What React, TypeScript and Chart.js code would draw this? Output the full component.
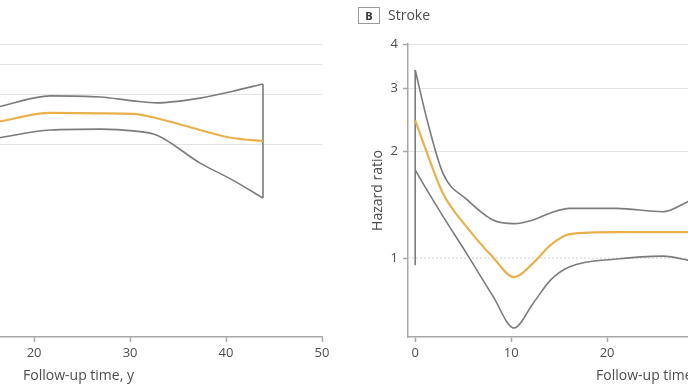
import React, { useEffect, useRef } from "react";
import { Chart, registerables } from "chart.js";
Chart.register(...registerables);

const xTicks = [0, 10, 20, 30, 40, 50];
const yTicks = [1, 2, 3, 4];
const xTitle = "Follow-up time, y";
const yTitle = "Hazard ratio";
const panelLetter = "B";
const panelTitle = "Stroke";

// Panel A (only its right part is visible)
const aTime = [16.2, 21.7, 26.9, 30.3, 32.8, 37.3, 40.7, 43.85];
const aUpper = [1.67, 1.95, 1.92, 1.82, 1.77, 1.89, 2.08, 2.3];
const aHR = [1.357, 1.54, 1.53, 1.52, 1.43, 1.214, 1.087, 1.042];
const aLower = [1.087, 1.214, 1.23, 1.2, 1.13, 0.768, 0.607, 0.473];

// Panel B Stroke (only its left part is visible)
const bTime = [0, 1.25, 2.9, 5.4, 8.1, 10.3, 12.3, 14.1, 16.1, 21, 25.8, 28.4, 29.2];
const bUpper = [3.38, 2.44, 1.73, 1.46, 1.28, 1.25, 1.28, 1.34, 1.38, 1.38, 1.35, 1.44, 1.475];
const bHR = [2.44, 1.97, 1.52, 1.22, 1.006, 0.884, 0.968, 1.088, 1.168, 1.183, 1.183, 1.183, 1.183];
const bLower = [1.77, 1.55, 1.31, 1.026, 0.782, 0.636, 0.747, 0.867, 0.945, 0.994, 1.013, 0.987, 0.974];
const bEdgeTop = 3.38;
const bEdgeBottom = 0.955;

const FONT = "'Open Sans', 'DejaVu Sans', sans-serif";
const GREY = "#7c7c7c";
const ORANGE = "#eab04c";
const AXIS = "#a8a8a8";
const GRID = "#e3e3e3";
const TEXT = "#4d4d4d";

type PanelOpts = {
  time: number[];
  upper: number[];
  hr: number[];
  lower: number[];
  edge: { x: number; y: number }[];
  yMin: number;
  yWidth: number;
  showYTitle: boolean;
  dashedRef: boolean;
};

function pts(t: number[], v: number[]) {
  return t.map((x, i) => ({ x, y: v[i] }));
}

function makeConfig(o: PanelOpts): any {
  const curve = (data: any[], color: string, w: number) => ({
    data,
    borderColor: color,
    borderWidth: w,
    pointRadius: 0,
    fill: false,
    cubicInterpolationMode: "monotone",
  });
  const datasets: any[] = [
    curve(pts(o.time, o.hr), ORANGE, 2.2),
    curve(pts(o.time, o.upper), GREY, 1.6),
    curve(pts(o.time, o.lower), GREY, 1.6),
    { data: o.edge, borderColor: GREY, borderWidth: 1.6, pointRadius: 0, tension: 0, fill: false },
  ];
  if (o.dashedRef) {
    datasets.push({
      data: [
        { x: -0.75, y: 1 },
        { x: 50, y: 1 },
      ],
      borderColor: "#d2d2d2",
      borderWidth: 1,
      borderDash: [2, 2],
      pointRadius: 0,
      tension: 0,
    });
  }
  return {
    type: "line",
    data: { datasets },
    options: {
      animation: false,
      responsive: false,
      events: [],
      layout: { padding: { left: 0, right: 20, top: 44, bottom: 0 } },
      plugins: { legend: { display: false }, tooltip: { enabled: false } },
      scales: {
        x: {
          type: "linear",
          min: -0.75,
          max: 50,
          afterBuildTicks: (s: any) => {
            s.ticks = xTicks.map((v) => ({ value: v }));
          },
          afterFit: (s: any) => {
            s.height = 50;
          },
          ticks: { font: { family: FONT, size: 13 }, color: TEXT, padding: 3, maxRotation: 0 },
          grid: {
            display: true,
            drawOnChartArea: false,
            drawTicks: true,
            tickLength: 5,
            tickColor: AXIS,
            tickWidth: 1.5,
          },
          border: { display: true, color: AXIS, width: 1.5 },
          title: {
            display: true,
            text: xTitle,
            color: TEXT,
            font: { family: FONT, size: 14 },
            padding: { top: 0, bottom: 3 },
          },
        },
        y: {
          type: "logarithmic",
          min: o.yMin,
          max: 4,
          afterBuildTicks: (s: any) => {
            s.ticks = yTicks.map((v) => ({ value: v }));
          },
          afterFit: (s: any) => {
            s.width = o.yWidth;
          },
          ticks: {
            font: { family: FONT, size: 13 },
            color: TEXT,
            padding: 5,
            callback: (v: any) => String(v),
          },
          grid: {
            color: (ctx: any) =>
              o.dashedRef && ctx.tick && ctx.tick.value === 1 ? "rgba(0,0,0,0)" : GRID,
            lineWidth: 1,
            drawTicks: true,
            tickLength: 5,
            tickColor: AXIS,
            tickWidth: 1.5,
          },
          border: { display: true, color: AXIS, width: 1.5 },
          title: {
            display: o.showYTitle,
            text: yTitle,
            color: TEXT,
            font: { family: FONT, size: 14 },
            padding: { top: 20, bottom: 0 },
          },
        },
      },
    },
  };
}

function Panel(props: { opts: PanelOpts; left: number; width: number }) {
  const ref = useRef<HTMLCanvasElement | null>(null);
  useEffect(() => {
    if (!ref.current) return;
    const chart = new Chart(ref.current, makeConfig(props.opts));
    return () => chart.destroy();
  }, []);
  return (
    <canvas
      ref={ref}
      width={props.width}
      height={387}
      style={{ position: "absolute", left: props.left, top: 0, width: props.width, height: 387, display: "block" }}
    />
  );
}

export default function App() {
  const n = aTime.length - 1;
  const optsA: PanelOpts = {
    time: aTime,
    upper: aUpper,
    hr: aHR,
    lower: aLower,
    edge: [
      { x: aTime[n], y: aUpper[n] },
      { x: aTime[n], y: aLower[n] },
    ],
    yMin: 0.069,
    yWidth: 60,
    showYTitle: false,
    dashedRef: false,
  };
  const optsB: PanelOpts = {
    time: bTime,
    upper: bUpper,
    hr: bHR,
    lower: bLower,
    edge: [
      { x: 0, y: bEdgeTop },
      { x: 0, y: bEdgeBottom },
    ],
    yMin: 0.6,
    yWidth: 58,
    showYTitle: true,
    dashedRef: true,
  };
  return (
    <div
      style={{
        position: "fixed",
        left: 0,
        top: 0,
        width: 688,
        height: 387,
        overflow: "hidden",
        background: "#ffffff",
      }}
    >
      <Panel opts={optsA} left={-225} width={567} />
      <Panel opts={optsB} left={350} width={565} />
      <div
        style={{
          position: "absolute",
          left: 358,
          top: 7,
          width: 20,
          height: 15,
          border: "1px solid #9a9a9a",
          fontFamily: FONT,
          fontWeight: 700,
          fontSize: 11,
          lineHeight: "15px",
          textAlign: "center",
          color: "#333",
        }}
      >
        {panelLetter}
      </div>
      <div
        style={{
          position: "absolute",
          left: 388,
          top: 5,
          fontFamily: FONT,
          fontSize: 14,
          lineHeight: "19px",
          color: TEXT,
          whiteSpace: "nowrap",
        }}
      >
        {panelTitle}
      </div>
    </div>
  );
}
